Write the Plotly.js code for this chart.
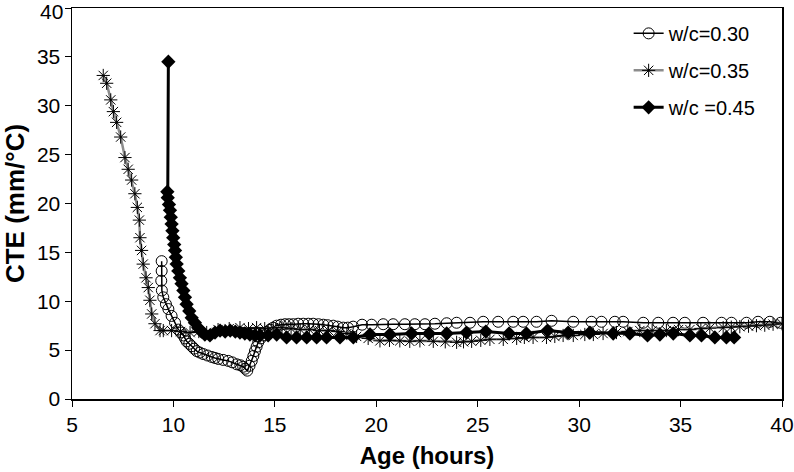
<!DOCTYPE html>
<html>
<head>
<meta charset="utf-8">
<script src="https://cdn.plot.ly/plotly-3.0.1.min.js"></script>
<style>
  html, body { margin: 0; padding: 0; background: #fff; }
  #chart { width: 794px; height: 472px; }
</style>
</head>
<body>
<div id="chart"></div>
<script>
// Coefficient of thermal expansion vs. age for three water/cement ratios

const seriesNames = ['w/c=0.30', 'w/c=0.35', 'w/c =0.45'];

// w/c = 0.30
const age30 = [9.42, 9.42, 9.40, 9.43, 9.50, 9.63, 9.75, 9.91, 10.08, 10.24, 10.36, 10.49, 10.57, 10.65, 10.78,
  10.90, 11.02, 11.15, 11.30, 11.47, 11.68, 11.89, 12.05, 12.21, 12.45, 12.70, 12.90, 13.12, 13.30, 13.44,
  13.54, 13.64, 13.75, 13.86, 13.94, 14.02, 14.10, 14.18, 14.30, 14.43, 14.60, 14.76, 14.92, 15.09, 15.30,
  15.50, 15.70, 15.91, 16.15, 16.40, 16.65, 16.89, 17.15, 17.39, 17.60, 17.88, 18.10, 18.37, 18.60, 18.86,
  19.30, 19.77, 20.34, 20.83, 21.41, 21.90, 22.40, 22.89, 23.47, 23.96, 24.62, 25.27, 26.01, 26.75, 27.24,
  27.90, 28.64, 29.71, 30.61, 31.10, 31.76, 32.17, 33.16, 33.90, 34.63, 35.21, 36.11, 37.02, 37.51, 38.25,
  38.82, 39.40, 39.93];
const cte30 = [14.1, 13.1, 12.1, 11.1, 10.4, 9.7, 9.2, 8.5, 7.8, 7.1, 6.8, 6.5, 6.2, 5.9, 5.65,
  5.4, 5.15, 4.9, 4.75, 4.6, 4.45, 4.3, 4.2, 4.1, 4.0, 3.9, 3.75, 3.55, 3.45, 3.3,
  3.1, 2.9, 3.4, 3.9, 4.4, 4.9, 5.35, 5.8, 6.2, 6.5, 6.85, 7.1, 7.3, 7.5, 7.6,
  7.65, 7.65, 7.65, 7.7, 7.7, 7.7, 7.7, 7.65, 7.6, 7.55, 7.5, 7.4, 7.3, 7.3, 7.4,
  7.6, 7.6, 7.65, 7.65, 7.65, 7.65, 7.65, 7.7, 7.75, 7.8, 7.8, 7.9, 7.9, 7.9, 7.9,
  7.9, 8.0, 7.9, 7.9, 7.9, 7.9, 7.9, 7.8, 7.8, 7.8, 7.8, 7.8, 7.8, 7.8, 7.8,
  7.9, 7.9, 7.8];

// w/c = 0.35
const age35 = [6.54, 6.71, 6.91, 7.04, 7.20, 7.40, 7.61, 7.77, 7.94, 8.10, 8.22, 8.32, 8.35, 8.43, 8.51,
  8.65, 8.76, 8.84, 8.93, 9.09, 9.34, 9.50, 9.91, 10.35, 10.82, 11.25, 11.64, 12.20, 12.75, 13.28,
  13.70, 14.10, 14.50, 14.92, 15.35, 15.80, 16.25, 16.70, 17.20, 17.65, 18.10, 18.55, 19.03, 19.60, 20.18,
  20.65, 21.16, 21.65, 22.15, 22.81, 23.40, 23.96, 24.30, 24.70, 25.15, 25.60, 26.26, 26.92, 27.30, 27.73,
  28.39, 28.80, 29.21, 29.71, 30.28, 30.70, 31.18, 31.84, 32.40, 32.99, 33.60, 34.30, 34.90, 35.46, 36.00,
  36.44, 37.10, 37.50, 37.92, 38.35, 38.74, 39.15, 39.56, 40.0];
const cte35 = [33.1, 32.3, 30.6, 29.4, 28.3, 26.8, 24.7, 23.5, 22.4, 21.0, 19.6, 18.3, 16.5, 15.2, 13.8,
  12.4, 11.4, 10.1, 8.7, 7.7, 7.0, 7.0, 7.0, 6.9, 6.8, 6.9, 6.8, 7.1, 7.2, 7.3,
  7.2, 7.3, 7.2, 7.3, 7.3, 7.2, 7.1, 7.1, 7.0, 7.0, 6.9, 6.7, 6.4, 6.2, 5.95,
  6.0, 5.95, 5.9, 5.95, 5.9, 5.85, 5.8, 5.85, 5.9, 6.0, 6.1, 6.1, 6.2, 6.3, 6.3,
  6.3, 6.4, 6.5, 6.5, 6.6, 6.6, 6.7, 6.8, 6.9, 7.0, 7.0, 7.0, 7.1, 7.1, 7.2,
  7.25, 7.3, 7.35, 7.4, 7.45, 7.5, 7.55, 7.65, 7.7];

// w/c = 0.45
const age45 = [9.75, 9.70, 9.72, 9.78, 9.83, 9.87, 9.91, 9.95, 9.99, 10.04, 10.08, 10.12, 10.16, 10.24, 10.32,
  10.40, 10.49, 10.57, 10.65, 10.78, 10.90, 11.06, 11.22, 11.38, 11.55, 11.80, 12.05, 12.30, 12.55, 12.80,
  13.05, 13.28, 13.52, 13.77, 14.02, 14.27, 14.67, 15.09, 15.58, 16.07, 16.57, 17.06, 17.55, 18.21, 18.87,
  19.69, 20.67, 21.74, 22.60, 23.47, 24.45, 25.40, 26.55, 27.40, 28.44, 29.46, 30.53, 31.68, 32.50, 33.37,
  33.98, 34.64, 35.46, 36.03, 36.69, 37.26, 37.64];
const cte45 = [34.5, 21.2, 20.6, 19.9, 19.3, 18.6, 17.9, 17.2, 16.5, 15.8, 15.2, 14.5, 13.8, 13.1, 12.4,
  11.8, 11.1, 10.4, 9.7, 9.0, 8.3, 7.8, 7.3, 6.9, 6.6, 6.5, 6.8, 7.0, 6.9, 7.0,
  6.9, 6.8, 6.7, 6.6, 6.5, 6.5, 6.5, 6.6, 6.3, 6.3, 6.3, 6.3, 6.3, 6.3, 6.3,
  6.6, 6.6, 6.7, 6.7, 6.7, 6.8, 6.9, 6.7, 6.7, 7.0, 6.8, 6.8, 6.7, 6.7, 6.5,
  6.6, 6.7, 6.5, 6.5, 6.3, 6.3, 6.3];

const xTicks = [5, 10, 15, 20, 25, 30, 35, 40];
const yTicks = [0, 5, 10, 15, 20, 25, 30, 35, 40];
const yTickText = ['0', '5', '10', '15', '20', '25', '30', '35', ''];
const yTopLabel = '40';

const FONT = 'Liberation Sans, Arial, sans-serif';
const TICK_SIZE = 21;

const traces = [
  {
    x: age30, y: cte30, name: seriesNames[0], legendgroup: 'a',
    type: 'scatter', mode: 'lines+markers',
    line: { color: '#000', width: 1.5 },
    marker: { symbol: 'circle', size: 11, color: 'rgba(255,255,255,0)', line: { color: '#000', width: 1 } }
  },
  {
    x: age35, y: cte35, name: seriesNames[1], legendgroup: 'b',
    type: 'scatter', mode: 'lines+markers',
    line: { color: '#8c8c8c', width: 2.5 },
    marker: { symbol: 'asterisk-open', size: 11, color: '#000', line: { color: '#000', width: 1 } }
  },
  {
    x: age45, y: cte45, name: seriesNames[2], legendgroup: 'c',
    type: 'scatter', mode: 'lines+markers',
    line: { color: '#000', width: 3 },
    marker: { symbol: 'diamond', size: 11, color: '#000' }
  }
];

const axisCommon = {
  showgrid: false, zeroline: false,
  showline: true, linecolor: '#000', linewidth: 1.5, mirror: true,
  ticks: 'outside', ticklen: 6, tickcolor: '#000', tickwidth: 1,
  tickfont: { family: FONT, size: TICK_SIZE, color: '#000' },
  automargin: false
};

const layout = {
  width: 794, height: 472,
  margin: { l: 72, r: 12, t: 8, b: 73 },
  paper_bgcolor: '#fff', plot_bgcolor: '#fff',
  font: { family: FONT, color: '#000' },
  showlegend: true,
  legend: {
    x: 0.784, y: 0.985, xanchor: 'left', yanchor: 'top',
    bgcolor: 'rgba(255,255,255,0)', borderwidth: 0,
    font: { family: FONT, size: 20, color: '#000' },
    tracegroupgap: 8
  },
  xaxis: Object.assign({}, axisCommon, {
    range: [5, 40], tickmode: 'array', tickvals: xTicks,
    title: { text: '<b>Age (hours)</b>', font: { family: FONT, size: 24, color: '#000' }, standoff: 12 }
  }),
  yaxis: Object.assign({}, axisCommon, {
    range: [0, 40], tickmode: 'array', tickvals: yTicks, ticktext: yTickText,
    title: { text: '<b>CTE (mm/°C)</b>', font: { family: FONT, size: 26, color: '#000' }, standoff: 8 }
  }),
  // top y label sits at the very edge of the page, placed on the y axis value
  annotations: [{
    xref: 'paper', yref: 'y', x: 0, y: yTicks[yTicks.length - 1],
    text: yTopLabel, showarrow: false, xanchor: 'right', yanchor: 'middle',
    xshift: -7, yshift: -3, font: { family: FONT, size: TICK_SIZE, color: '#000' }
  }]
};

Plotly.newPlot('chart', traces, layout, { displayModeBar: false, staticPlot: true });
</script>
</body>
</html>
